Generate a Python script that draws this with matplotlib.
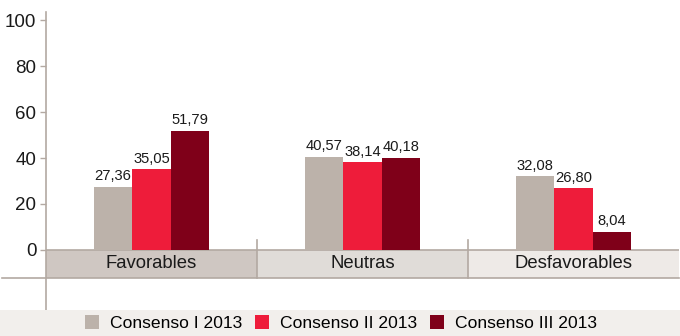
import matplotlib
matplotlib.use("Agg")
import matplotlib.pyplot as plt
from matplotlib.patches import Rectangle, Patch
import numpy as np

plt.rcParams["font.family"] = ["Liberation Sans", "DejaVu Sans"]

categorias = ["Favorables", "Neutras", "Desfavorables"]
series = ["Consenso I 2013", "Consenso II 2013", "Consenso III 2013"]
valores = [
    [27.36, 40.57, 32.08],
    [35.05, 38.14, 26.80],
    [51.79, 40.18, 8.04],
]
colores = ["#bcb2aa", "#ee1c3a", "#7f0019"]
bandas = ["#cfc7c2", "#e0dcd8", "#eeeae7"]
eje = "#b3a9a2"

W, H = 680, 336
fig = plt.figure(figsize=(W / 100, H / 100), dpi=100)

# legend strip along the bottom
fig.patches.append(Rectangle((0, 0), 1, 26 / H, transform=fig.transFigure,
                             facecolor="#f2efec", edgecolor="none", zorder=0))

# axes: y pixels 12..310, x pixels 46..679
ax = fig.add_axes([46 / W, (H - 310) / H, 633 / W, 298 / H])
ppu = 2.3  # pixels per unit
ax.set_ylim(-(310 - 250) / ppu, (250 - 12) / ppu)
ax.set_xlim(0, 3)

banda_h = 28 / ppu
for i, cat in enumerate(categorias):
    ax.add_patch(Rectangle((i, -banda_h), 1, banda_h, facecolor=bandas[i],
                           edgecolor="none", zorder=1))
    ax.text(i + 0.5, -banda_h / 2, cat, ha="center", va="center",
            fontsize=13.3, color="#1a1a1a", zorder=3)
    if i > 0:
        ax.plot([i, i], [-banda_h, 10 / ppu], color=eje, lw=1.2, zorder=2,
                clip_on=False)

ax.axhline(0, color=eje, lw=1.2, zorder=2)
ax.plot([-44 / 633 * 3, 3], [-banda_h, -banda_h], color=eje, lw=1.2,
        zorder=2, clip_on=False)

ancho = 38.5 / 211
x = np.arange(len(categorias)) + 0.5
for j, (nombre, vals) in enumerate(zip(series, valores)):
    pos = x + (j - 1) * ancho
    ax.bar(pos, vals, width=ancho, color=colores[j], zorder=2, label=nombre)
    for px, v in zip(pos, vals):
        ax.text(px, v + 1.6, f"{v:.2f}".replace(".", ","), ha="center",
                va="bottom", fontsize=10.6, color="#1a1a1a")

for s in ["top", "right", "bottom"]:
    ax.spines[s].set_visible(False)
ax.spines["left"].set_color(eje)
ax.spines["left"].set_linewidth(1.2)
ax.set_yticks(range(0, 101, 20))
ax.tick_params(axis="y", colors=eje, length=4, width=1, labelsize=13.5,
               labelcolor="#1a1a1a", pad=3)
ax.set_xticks([])
ax.patch.set_alpha(0)

handles = [Patch(facecolor=c, edgecolor="none") for c in colores]
fig.legend(handles, series, loc="center", bbox_to_anchor=(341 / W, 13 / H),
           ncol=3, frameon=False, fontsize=12.6, handlelength=0.8,
           handleheight=0.8, handletextpad=0.6, columnspacing=0.75)

fig.savefig("out.png", dpi=100)
